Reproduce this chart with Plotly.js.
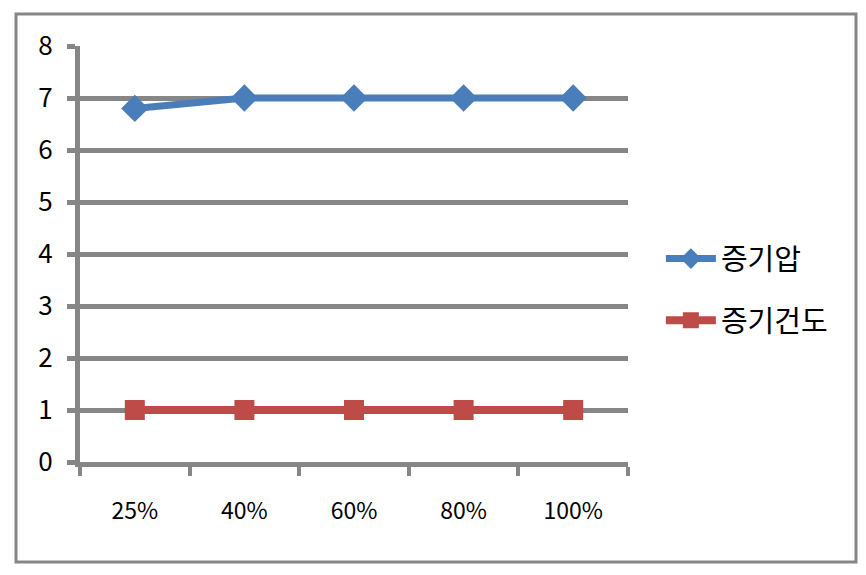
<!DOCTYPE html>
<html><head><meta charset="utf-8">
<script src="https://cdn.plot.ly/plotly-3.0.1.min.js"></script>
<style>html,body{margin:0;padding:0;background:#fff}#c{width:866px;height:575px}</style>
</head><body><div id="c"></div>
<script>
const categories = ["25%", "40%", "60%", "80%", "100%"];
const vaporPressure = [6.8, 7, 7, 7, 7];
const steamQuality = [1, 1, 1, 1, 1];
const seriesNames = ["증기압", "증기건도"];

const font = "'Noto Sans CJK KR', 'Noto Sans', sans-serif";
const grid = "#868686";

const traces = [
  {x: categories, y: vaporPressure, name: seriesNames[0], type: "scatter", mode: "lines+markers",
   legendgroup: "a",
   line: {color: "#4A7EBB", width: 7}, marker: {symbol: "diamond", size: 21, color: "#4A7EBB"}},
  {x: categories, y: steamQuality, name: seriesNames[1], type: "scatter", mode: "lines+markers",
   legendgroup: "b",
   line: {color: "#BE4B48", width: 8}, marker: {symbol: "square", size: 20, color: "#BE4B48"}}
];

const layout = {
  width: 866, height: 575,
  margin: {l: 80, r: 238, t: 46, b: 113},
  paper_bgcolor: "#fff", plot_bgcolor: "#fff",
  font: {family: font, color: "#000"},
  showlegend: true,
  legend: {x: 1.06, y: 0.55, xanchor: "left", yanchor: "top", font: {size: 29, family: font},
           itemwidth: 50,
           traceorder: "grouped", tracegroupgap: 21, bgcolor: "rgba(0,0,0,0)"},
  xaxis: {type: "category", tickson: "boundaries", showgrid: false,
          ticks: "outside", ticklen: 9, tickwidth: 4, tickcolor: grid,
          showline: true, linewidth: 5, linecolor: grid,
          tickfont: {size: 23, family: font}, ticklabelstandoff: 24,
          range: [-0.5, 4.5], fixedrange: true},
  yaxis: {range: [0, 8], dtick: 1, showgrid: true, gridcolor: grid, gridwidth: 5,
          zeroline: false, showline: true, linewidth: 5, linecolor: grid,
          ticks: "outside", ticklen: 8, tickwidth: 5, tickcolor: grid,
          tickfont: {size: 26, family: font}, ticklabelstandoff: 9},
  shapes: [{type: "rect", xref: "paper", yref: "paper",
            x0: (16-80)/548, x1: (856-80)/548, y0: (462-562)/416, y1: (462-14)/416,
            line: {color: grid, width: 3}, layer: "below"}]
};
Plotly.newPlot("c", traces, layout, {displayModeBar: false, staticPlot: true});
</script></body></html>
